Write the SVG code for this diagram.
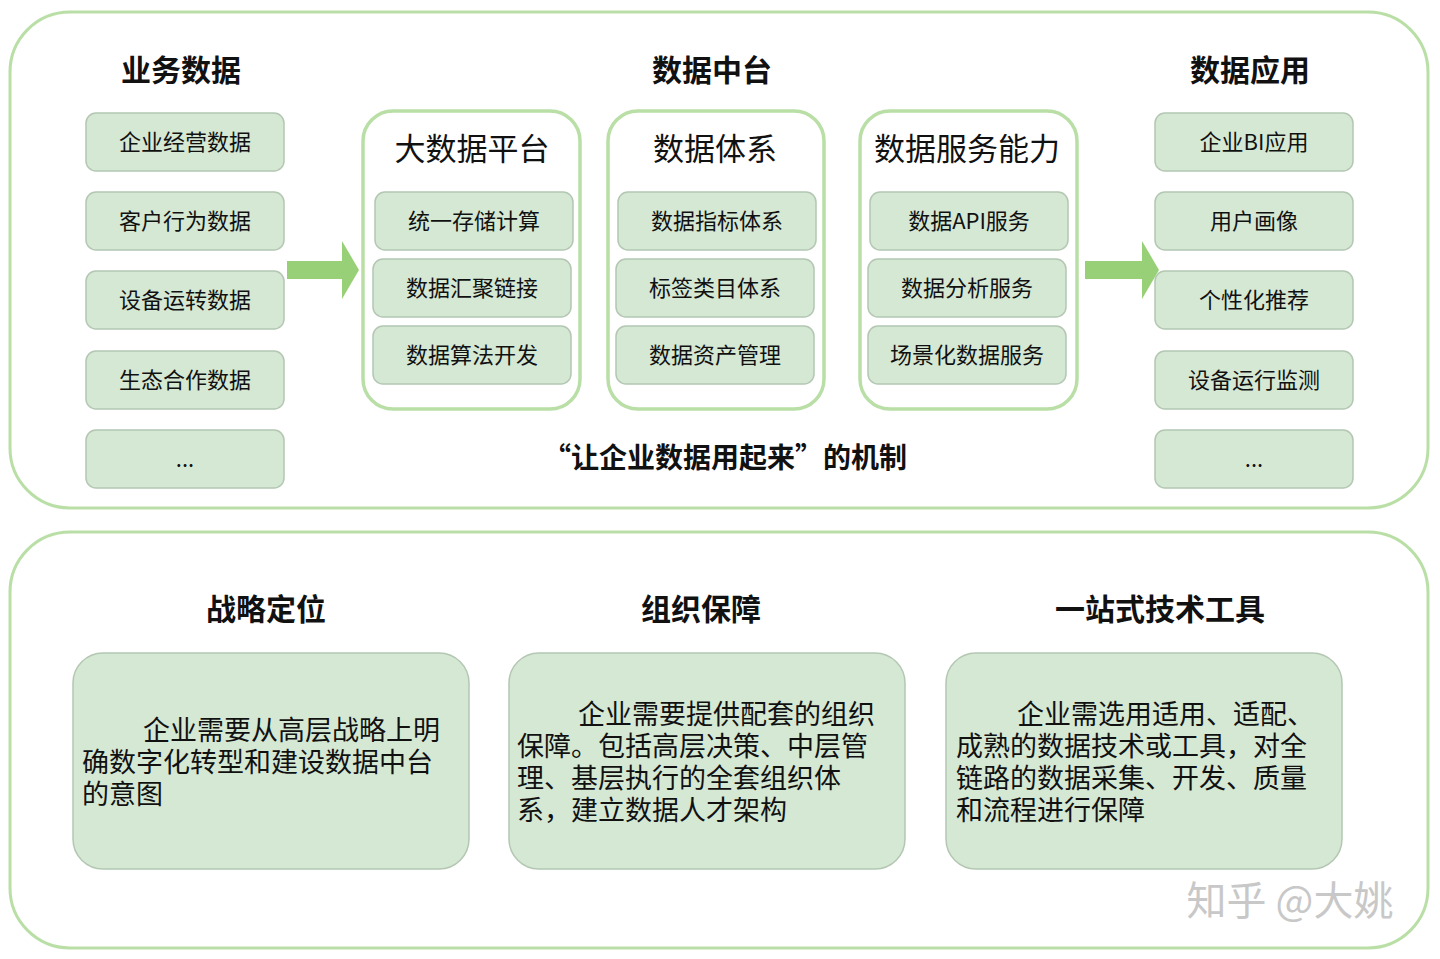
<svg xmlns="http://www.w3.org/2000/svg" width="1440" height="959" viewBox="0 0 1440 959">
<style>
text{font-family:"Noto Sans CJK SC","Noto Sans",sans-serif;fill:#111}
.o{fill:#fff;stroke:#b9dfa6;stroke-width:3}
.b{fill:#d5e8d4;stroke:#b3c7b2;stroke-width:1.5}
.c{fill:#fff;stroke:#b9dfa6;stroke-width:3.5}
.t{font-size:22px;text-anchor:middle}
.h{font-size:30px;font-weight:bold;text-anchor:middle}
.ct{font-size:31px;text-anchor:middle}
.p{font-size:27px}
.a{fill:#97d077}
</style>
<rect class="o" x="10" y="12" width="1418" height="496" rx="60"/>
<rect class="o" x="10" y="532" width="1418" height="416" rx="60"/>
<text class="h" x="181" y="81">业务数据</text>
<text class="h" x="712" y="81">数据中台</text>
<text class="h" x="1250" y="81">数据应用</text>
<g id="left">
<rect class="b" x="86" y="113" width="198" height="58" rx="10"/><text class="t" x="185" y="150">企业经营数据</text>
<rect class="b" x="86" y="192" width="198" height="58" rx="10"/><text class="t" x="185" y="229">客户行为数据</text>
<rect class="b" x="86" y="271" width="198" height="58" rx="10"/><text class="t" x="185" y="308">设备运转数据</text>
<rect class="b" x="86" y="351" width="198" height="58" rx="10"/><text class="t" x="185" y="388">生态合作数据</text>
<rect class="b" x="86" y="430" width="198" height="58" rx="10"/><text class="t" x="185" y="467">...</text>
</g>
<g id="right">
<rect class="b" x="1155" y="113" width="198" height="58" rx="10"/><text class="t" x="1254" y="150">企业BI应用</text>
<rect class="b" x="1155" y="192" width="198" height="58" rx="10"/><text class="t" x="1254" y="229">用户画像</text>
<rect class="b" x="1155" y="271" width="198" height="58" rx="10"/><text class="t" x="1254" y="308">个性化推荐</text>
<rect class="b" x="1155" y="351" width="198" height="58" rx="10"/><text class="t" x="1254" y="388">设备运行监测</text>
<rect class="b" x="1155" y="430" width="198" height="58" rx="10"/><text class="t" x="1254" y="467">...</text>
</g>
<g id="platform">
<rect class="c" x="363" y="111" width="217" height="298" rx="30"/>
<text class="ct" x="472" y="160">大数据平台</text>
<rect class="b" x="375" y="192" width="198" height="58" rx="10"/><text class="t" x="474" y="229">统一存储计算</text>
<rect class="b" x="373" y="259" width="198" height="58" rx="10"/><text class="t" x="472" y="296">数据汇聚链接</text>
<rect class="b" x="373" y="326" width="198" height="58" rx="10"/><text class="t" x="472" y="363">数据算法开发</text>
</g>
<g id="system">
<rect class="c" x="608" y="111" width="216" height="298" rx="30"/>
<text class="ct" x="715" y="160">数据体系</text>
<rect class="b" x="618" y="192" width="198" height="58" rx="10"/><text class="t" x="717" y="229">数据指标体系</text>
<rect class="b" x="616" y="259" width="198" height="58" rx="10"/><text class="t" x="715" y="296">标签类目体系</text>
<rect class="b" x="616" y="326" width="198" height="58" rx="10"/><text class="t" x="715" y="363">数据资产管理</text>
</g>
<g id="service">
<rect class="c" x="860" y="111" width="217" height="298" rx="30"/>
<text class="ct" x="967" y="160">数据服务能力</text>
<rect class="b" x="870" y="192" width="198" height="58" rx="10"/><text class="t" x="969" y="229">数据API服务</text>
<rect class="b" x="868" y="259" width="198" height="58" rx="10"/><text class="t" x="967" y="296">数据分析服务</text>
<rect class="b" x="868" y="326" width="198" height="58" rx="10"/><text class="t" x="967" y="363">场景化数据服务</text>
</g>
<g id="connectors">
<polygon class="a" points="287,261 342,261 342,241 359,270 342,299 342,279 287,279"/>
<polygon class="a" points="1085,261 1142,261 1142,241 1159,270 1142,299 1142,279 1085,279"/>
</g>
<text x="725" y="468" style="font-size:28px;font-weight:bold;text-anchor:middle">“让企业数据用起来”的机制</text>
<text class="h" x="266" y="620">战略定位</text>
<text class="h" x="701" y="620">组织保障</text>
<text class="h" x="1160" y="620">一站式技术工具</text>
<g id="b1"><rect class="b" x="73" y="653" width="396" height="216" rx="30"/>
<text class="p" x="143" y="740">企业需要从高层战略上明</text>
<text class="p" x="82" y="772">确数字化转型和建设数据中台</text>
<text class="p" x="82" y="804">的意图</text></g>
<g id="b2"><rect class="b" x="509" y="653" width="396" height="216" rx="30"/>
<text class="p" x="578" y="724">企业需要提供配套的组织</text>
<text class="p" x="517" y="756">保障。包括高层决策、中层管</text>
<text class="p" x="517" y="788">理、基层执行的全套组织体</text>
<text class="p" x="517" y="820">系，建立数据人才架构</text></g>
<g id="b3"><rect class="b" x="946" y="653" width="396" height="216" rx="30"/>
<text class="p" x="1017" y="724">企业需选用适用、适配、</text>
<text class="p" x="956" y="756">成熟的数据技术或工具，对全</text>
<text class="p" x="956" y="788">链路的数据采集、开发、质量</text>
<text class="p" x="956" y="820">和流程进行保障</text></g>
<text x="1290" y="915" style="font-size:40px;fill:#c8c8c8;text-anchor:middle">知乎 @大姚</text>
</svg>
